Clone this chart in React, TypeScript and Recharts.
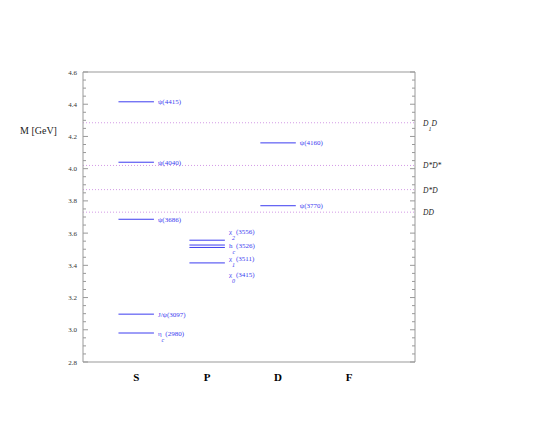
import React from 'react';
import { ComposedChart, XAxis, YAxis, ReferenceLine, Scatter } from 'recharts';

// partial waves along the x axis
const waves = ['S', 'P', 'D', 'F'];

// charmonium levels
const levelSymbols = ['η', 'J/ψ', 'ψ', 'ψ', 'ψ', 'χ', 'χ', 'h', 'χ', 'ψ', 'ψ'];
const levelSubs = ['c', '', '', '', '', '0', '1', 'c', '2', '', ''];
const levelMasses = [2.98, 3.097, 3.686, 4.04, 4.415, 3.415, 3.511, 3.526, 3.556, 3.77, 4.16];
const levelWaves = ['S', 'S', 'S', 'S', 'S', 'P', 'P', 'P', 'P', 'D', 'D'];

// open-charm thresholds
const thresholdMain = ['DD', 'D*D', 'D*D*', 'D'];
const thresholdSubs = ['', '', '', '1'];
const thresholdTails = ['', '', '', 'D'];
const thresholdMasses = [3.73, 3.87, 4.02, 4.285];

const majorTicks = [2.8, 3.0, 3.2, 3.4, 3.6, 3.8, 4.0, 4.2, 4.4, 4.6];

const allTicks: number[] = [];
majorTicks.forEach((t, i) => {
  allTicks.push(t);
  if (i < majorTicks.length - 1) {
    [0.05, 0.1, 0.15].forEach(d => allTicks.push(Math.round((t + d) * 1000) / 1000));
  }
});

const levelPoints = levelMasses.map((m, i) => ({ x: waves.indexOf(levelWaves[i]) + 1, y: m }));

const FONT = '"Liberation Serif", "DejaVu Serif", serif';
const BLUE = '#3c3cf0';
const FRAME = '#999';

// extra vertical shift of the crowded P-wave labels
const labelShift: Record<number, number> = { 5: 12, 6: 11, 7: 0, 8: -9 };

const isMajor = (v: number) => majorTicks.some(t => Math.abs(t - v) < 1e-6);

const LeftTick = (props: any) => {
  const { x, y, payload } = props;
  const major = isMajor(payload.value);
  const ax = x + 6;
  return (
    <g>
      <line x1={ax} x2={ax + (major ? 5 : 3)} y1={y} y2={y} stroke={FRAME} />
      {major && (
        <text x={x} y={y} dy={2.5} textAnchor="end" fontSize={7} fontFamily={FONT} fill="#333">
          {payload.value.toFixed(1)}
        </text>
      )}
    </g>
  );
};

const RightTick = (props: any) => {
  const { x, y, payload } = props;
  const major = isMajor(payload.value);
  return <line x1={x - (major ? 5 : 3)} x2={x} y1={y} y2={y} stroke={FRAME} />;
};

const levelLabel = (i: number) => (p: any) => {
  const { x, y, width } = p.viewBox;
  const tx = x + width + 4;
  const ty = y + 2.5 + (labelShift[i] || 0);
  const sub = levelSubs[i];
  return (
    <text x={tx} y={ty} fontSize={7} fontFamily={FONT} fill={BLUE}>
      <tspan>{levelSymbols[i]}</tspan>
      {sub && <tspan dy={6} fontSize={6} fontStyle="italic">{sub}</tspan>}
      <tspan dy={sub ? -6 : 0} dx={sub ? 1 : 0}>({Math.round(levelMasses[i] * 1000)})</tspan>
    </text>
  );
};

const thresholdLabel = (i: number) => (p: any) => {
  const { x, y, width } = p.viewBox;
  const sub = thresholdSubs[i];
  return (
    <text x={x + width + 8} y={y + 3} fontSize={7.5} fontStyle="italic" fontFamily={FONT} fill="#222">
      <tspan>{thresholdMain[i]}</tspan>
      {sub && <tspan dy={5} fontSize={6}>{sub}</tspan>}
      {sub && <tspan dy={-5}>{thresholdTails[i]}</tspan>}
    </text>
  );
};

export default function App() {
  return (
    <div style={{ position: 'absolute', left: 0, top: 0, width: 545, height: 436, background: '#fff' }}>
      <div style={{ position: 'absolute', left: 20, top: 125, fontSize: 10, fontFamily: FONT, color: '#222' }}>
        M [GeV]
      </div>
      <ComposedChart width={545} height={436} margin={{ top: 72, right: 120, bottom: 44, left: 43 }}>
        <XAxis
          type="number"
          dataKey="x"
          domain={[0.25, 4.93]}
          allowDataOverflow
          ticks={[1, 2, 3, 4]}
          tickFormatter={(v: number) => waves[v - 1]}
          height={30}
          axisLine={{ stroke: FRAME }}
          tickLine={false}
          tickSize={0}
          tickMargin={11}
          interval={0}
          tick={{ fontSize: 11, fontWeight: 'bold', fontFamily: FONT, fill: '#000' }}
        />
        <YAxis
          type="number"
          dataKey="y"
          domain={[2.8, 4.6]}
          allowDataOverflow
          ticks={allTicks}
          interval={0}
          width={40}
          axisLine={{ stroke: FRAME }}
          tickLine={false}
          tickSize={0}
          tickMargin={6}
          tick={<LeftTick />}
        />
        <YAxis
          yAxisId="r"
          orientation="right"
          type="number"
          dataKey="y"
          domain={[2.8, 4.6]}
          allowDataOverflow
          ticks={allTicks}
          interval={0}
          width={10}
          axisLine={{ stroke: FRAME }}
          tickLine={false}
          tickSize={0}
          tickMargin={0}
          tick={<RightTick />}
        />
        <Scatter data={levelPoints} dataKey="y" shape={() => null} isAnimationActive={false} />
        <Scatter data={levelPoints} dataKey="y" yAxisId="r" shape={() => null} isAnimationActive={false} />
        <ReferenceLine y={4.6} stroke={FRAME} />
        {thresholdMasses.map((m, i) => (
          <ReferenceLine
            key={`th-${i}`}
            y={m}
            stroke="#d39ae6"
            strokeDasharray="1 2"
            label={thresholdLabel(i)}
          />
        ))}
        {levelMasses.map((m, i) => {
          const c = waves.indexOf(levelWaves[i]) + 1;
          return (
            <ReferenceLine
              key={`lv-${i}`}
              segment={[{ x: c - 0.25, y: m }, { x: c + 0.25, y: m }]}
              stroke={BLUE}
              label={levelLabel(i)}
            />
          );
        })}
      </ComposedChart>
    </div>
  );
}
